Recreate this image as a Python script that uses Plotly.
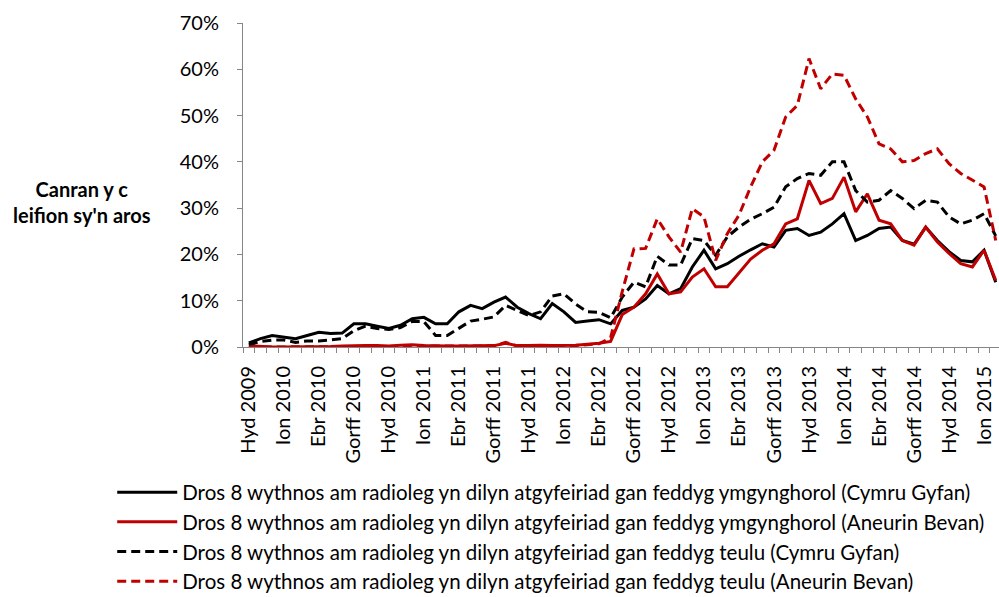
import plotly.graph_objects as go

# Monthly periods, Oct 2009 (Hyd 2009) to Feb 2015 (Chwef 2015)
month_names = ["Hyd", "Tach", "Rhag", "Ion", "Chwef", "Maw",
               "Ebr", "Mai", "Meh", "Gorff", "Awst", "Medi"]
months = []
year = 2009
for k in range(65):
    name = month_names[k % 12]
    if name == "Ion" and k > 0:
        year += 1
    months.append(f"{name} {year}")

tick_labels = ["Hyd 2009", "Ion 2010", "Ebr 2010", "Gorff 2010", "Hyd 2010",
               "Ion 2011", "Ebr 2011", "Gorff 2011", "Hyd 2011", "Ion 2012",
               "Ebr 2012", "Gorff 2012", "Hyd 2012", "Ion 2013", "Ebr 2013",
               "Gorff 2013", "Hyd 2013", "Ion 2014", "Ebr 2014", "Gorff 2014",
               "Hyd 2014", "Ion 2015"]

# Percentage of patients waiting over 8 weeks for radiology
consultant_wales = [0.9, 1.8, 2.5, 2.2, 1.8, 2.5, 3.2, 2.9, 3.0, 5.0,
                    5.0, 4.5, 4.0, 4.7, 6.1, 6.4, 5.0, 5.0, 7.6, 9.0,
                    8.3, 9.7, 10.8, 8.6, 7.2, 6.1, 9.4, 7.6, 5.3, 5.6,
                    5.9, 5.0, 7.9, 8.6, 10.4, 13.3, 11.5, 12.6, 17.3, 20.9,
                    16.9, 18.0, 19.6, 21.0, 22.3, 21.6, 25.2, 25.6, 24.1, 24.8,
                    26.6, 28.8, 23.0, 24.1, 25.6, 25.9, 23.0, 22.2, 25.9, 23.0,
                    20.6, 18.7, 18.4, 20.9, 14.0]

consultant_ab = [0.3, 0.1, 0.0, 0.0, 0.0, 0.0, 0.0, 0.1, 0.2, 0.3,
                 0.3, 0.3, 0.2, 0.4, 0.5, 0.3, 0.2, 0.2, 0.2, 0.2,
                 0.2, 0.3, 0.8, 0.3, 0.3, 0.4, 0.3, 0.3, 0.4, 0.6,
                 0.8, 1.2, 7.0, 8.6, 11.5, 15.8, 11.5, 11.9, 15.1, 16.9,
                 13.0, 13.0, 16.0, 19.0, 20.9, 22.3, 26.6, 27.7, 36.0, 31.0,
                 32.1, 36.7, 29.2, 33.1, 27.4, 26.6, 23.0, 22.0, 25.9, 22.7,
                 20.2, 18.0, 17.3, 20.9, 14.4]

gp_wales = [0.5, 1.2, 1.5, 1.5, 1.0, 1.3, 1.3, 1.5, 1.8, 3.5,
            4.5, 4.0, 3.8, 4.2, 5.5, 5.5, 2.5, 2.5, 4.0, 5.6,
            6.0, 6.5, 9.0, 7.9, 6.8, 7.6, 11.0, 11.5, 9.3, 7.6,
            7.5, 6.3, 10.8, 14.0, 13.0, 19.6, 17.7, 17.7, 23.4, 23.0,
            19.8, 23.8, 25.9, 27.6, 28.8, 30.2, 34.6, 36.4, 37.5, 37.1,
            40.0, 40.0, 33.8, 31.3, 31.7, 33.8, 32.1, 29.9, 31.7, 31.3,
            28.1, 26.6, 27.4, 28.8, 24.0]

gp_ab = [0.0, 0.0, 0.0, 0.0, 0.0, 0.0, 0.0, 0.0, 0.1, 0.1,
         0.1, 0.1, 0.1, 0.2, 0.2, 0.1, 0.1, 0.1, 0.1, 0.1,
         0.1, 0.2, 1.0, 0.2, 0.2, 0.2, 0.2, 0.2, 0.3, 0.5,
         0.7, 2.0, 12.0, 21.2, 21.3, 27.7, 23.8, 20.5, 29.9, 28.1,
         18.7, 24.5, 28.5, 34.6, 40.0, 42.5, 49.7, 52.2, 62.3, 55.8,
         59.0, 58.7, 53.6, 49.7, 43.9, 42.8, 40.0, 40.3, 41.8, 42.8,
         39.6, 37.5, 36.0, 34.6, 23.0]

series_names = [
    "Dros 8 wythnos am radioleg yn dilyn atgyfeiriad gan feddyg ymgynghorol (Cymru Gyfan)",
    "Dros 8 wythnos am radioleg yn dilyn atgyfeiriad gan feddyg ymgynghorol (Aneurin Bevan)",
    "Dros 8 wythnos am radioleg yn dilyn atgyfeiriad gan feddyg teulu (Cymru Gyfan)",
    "Dros 8 wythnos am radioleg yn dilyn atgyfeiriad gan feddyg teulu (Aneurin Bevan)",
]

BLACK = "#000000"
RED = "#C00000"
AXIS = "#868686"
FONT = "Lato"

x_idx = list(range(len(months)))
tick_pos = [months.index(t) for t in tick_labels]

fig = go.Figure()
styles = [
    (consultant_wales, BLACK, "solid"),
    (consultant_ab, RED, "solid"),
    (gp_wales, BLACK, "9px,5px"),
    (gp_ab, RED, "9px,5px"),
]
for i, (vals, color, dash) in enumerate(styles):
    fig.add_trace(go.Scatter(
        x=x_idx, y=vals, mode="lines", name=series_names[i],
        customdata=months, legendgroup=f"g{i}",
        line=dict(color=color, width=3, dash=dash),
        hovertemplate="%{customdata}: %{y:.1f}%<extra></extra>",
    ))

fig.update_layout(
    width=999, height=597,
    margin=dict(l=243, r=0, t=23, b=250, autoexpand=False),
    paper_bgcolor="white", plot_bgcolor="white",
    font=dict(family=FONT, size=20, color="#000000"),
    showlegend=True,
    legend=dict(
        x=-0.173, y=-0.387, xanchor="left", yanchor="top",
        orientation="v", traceorder="grouped", tracegroupgap=0,
        itemwidth=60, font=dict(family=FONT, size=20.5),
        bgcolor="rgba(0,0,0,0)",
    ),
    annotations=[dict(
        text="<b>Canran y c<br>leifion sy'n aros</b>",
        xref="paper", yref="paper", x=-0.213, y=0.447,
        xanchor="center", yanchor="middle", showarrow=False,
        font=dict(family=FONT, size=20, color="#000000"), align="center",
    )],
)

fig.update_xaxes(
    range=[-0.5, 64.28], showgrid=False, zeroline=False,
    showline=True, linecolor=AXIS, linewidth=1,
    tickmode="array", tickvals=tick_pos, ticktext=tick_labels,
    ticks="", tickangle=-90, ticklabelstandoff=10,
    tickfont=dict(family=FONT, size=20),
    minor=dict(ticks="outside", ticklen=5, tickcolor=AXIS, tickwidth=1,
               tickmode="linear", tick0=-0.5, dtick=1, showgrid=False),
)
fig.update_yaxes(
    range=[0, 70], dtick=10, tick0=0, ticksuffix="%",
    showgrid=False, zeroline=False,
    showline=True, linecolor=AXIS, linewidth=1,
    ticks="outside", ticklen=5, tickcolor=AXIS, ticklabelstandoff=14,
    tickfont=dict(family=FONT, size=20),
)

fig.write_html("out.html")
